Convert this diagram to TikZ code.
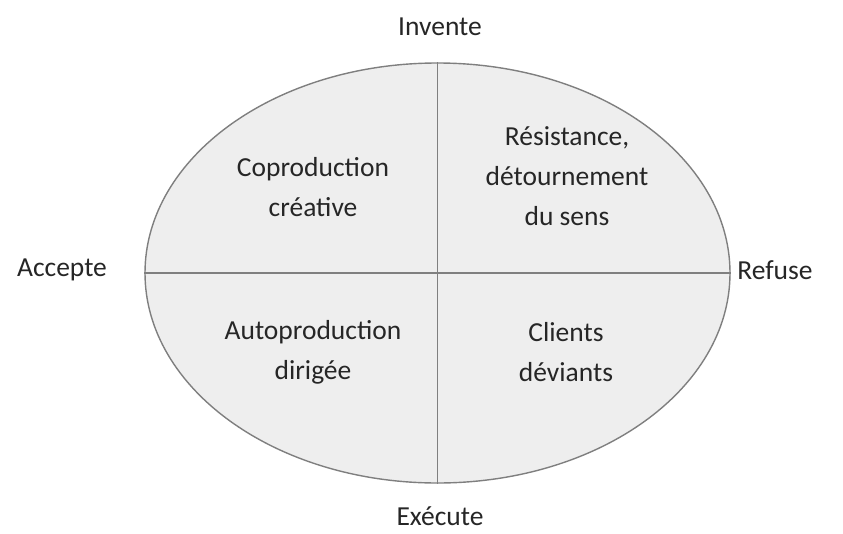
\documentclass[tikz,border=0pt]{standalone}
\usepackage{fontspec}
\setmainfont{Carlito}
\usetikzlibrary{positioning,shapes.geometric}
\definecolor{cellfill}{HTML}{EEEEEE}
\definecolor{rimgray}{HTML}{7F7F7F}
\definecolor{inkgray}{HTML}{262626}

\begin{document}
\begin{tikzpicture}[x=1pt,y=-1pt,
  lbl/.style={text=inkgray, align=center, inner sep=1pt, font=\fontsize{27.5}{40}\selectfont},
  rim/.style={draw=rimgray, line width=1.4pt}]
\useasboundingbox (0,0) rectangle (843,533);
% the ellipse and its two axes
\node[ellipse, rim, fill=cellfill, minimum width=585pt, minimum height=420pt, inner sep=0pt] (oval) at (437.5,273) {};
\draw[rim] (oval.north) -- (oval.south);
\draw[rim] (oval.west) -- (oval.east);
% the four poles
\node[lbl] (invente) at (440,27) {Invente};
\node[lbl] (execute) at (440,516) {Exécute};
\node[lbl] (accepte) at (62,270) {Accepte};
\node[lbl] (refuse) at (775,270) {Refuse};
% the four quarters
\node[lbl] (copro) at (313,187) {Coproduction\\créative};
\node[lbl] (resist) at (567,176) {Résistance,\\détournement\\du sens};
\node[lbl] (autopro) at (313,352) {Autoproduction\\dirigée};
\node[lbl] (clients) at (566,352) {Clients\\déviants};
\end{tikzpicture}
\end{document}
